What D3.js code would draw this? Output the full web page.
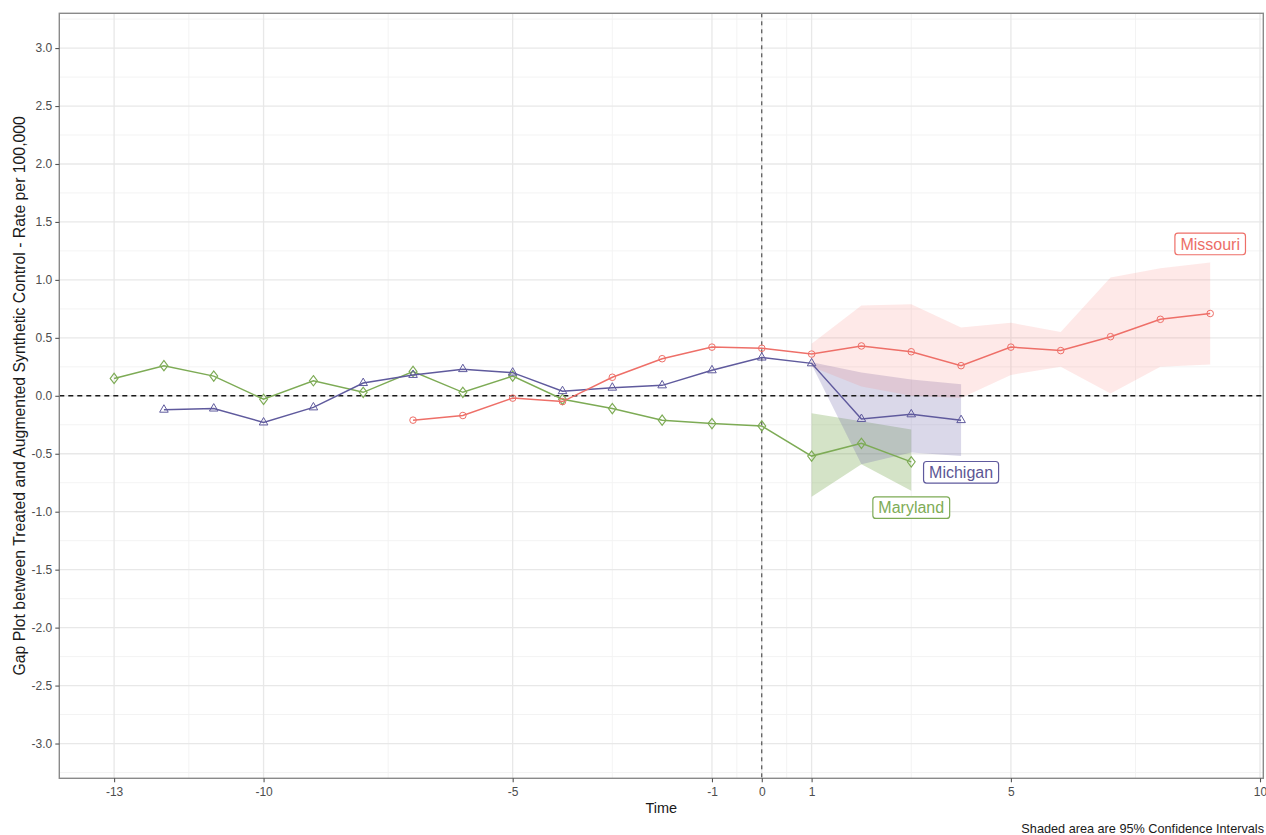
<!DOCTYPE html>
<html>
<head>
<meta charset="utf-8">
<script src="https://cdn.jsdelivr.net/npm/d3@7/dist/d3.min.js"></script>
<style>
  html, body { margin: 0; padding: 0; background: #ffffff; }
  svg { display: block; font-family: "Liberation Sans", Arial, Helvetica, sans-serif; }
</style>
</head>
<body>
<svg id="chart" width="1266" height="835"></svg>
<script>
// ---- data ---------------------------------------------------------------
const xBreaks = [-13, -10, -5, -1, 0, 1, 5, 10];
const yBreaks = [-3.0, -2.5, -2.0, -1.5, -1.0, -0.5, 0.0, 0.5, 1.0, 1.5, 2.0, 2.5, 3.0];

const missouriTime = [-7, -6, -5, -4, -3, -2, -1, 0, 1, 2, 3, 4, 5, 6, 7, 8, 9];
const missouriGap  = [-0.21, -0.17, -0.02, -0.05, 0.16, 0.32, 0.42, 0.41, 0.36, 0.43, 0.38, 0.26, 0.42, 0.39, 0.51, 0.66, 0.71];
const missouriCiTime  = [1, 2, 3, 4, 5, 6, 7, 8, 9];
const missouriCiLower = [0.25, 0.08, 0.00, -0.02, 0.18, 0.25, 0.02, 0.25, 0.27];
const missouriCiUpper = [0.45, 0.78, 0.79, 0.59, 0.63, 0.55, 1.02, 1.10, 1.15];

const michiganTime = [-12, -11, -10, -9, -8, -7, -6, -5, -4, -3, -2, -1, 0, 1, 2, 3, 4];
const michiganGap  = [-0.12, -0.11, -0.23, -0.10, 0.11, 0.18, 0.23, 0.20, 0.04, 0.07, 0.09, 0.22, 0.33, 0.28, -0.20, -0.16, -0.21];
const michiganCiTime  = [1, 2, 3, 4];
const michiganCiLower = [0.27, -0.59, -0.49, -0.52];
const michiganCiUpper = [0.29, 0.20, 0.14, 0.10];

const marylandTime = [-13, -12, -11, -10, -9, -8, -7, -6, -5, -4, -3, -2, -1, 0, 1, 2, 3];
const marylandGap  = [0.15, 0.26, 0.17, -0.03, 0.13, 0.03, 0.21, 0.03, 0.17, -0.03, -0.11, -0.21, -0.24, -0.26, -0.52, -0.41, -0.57];
const marylandCiTime  = [1, 2, 3];
const marylandCiLower = [-0.87, -0.59, -0.82];
const marylandCiUpper = [-0.15, -0.22, -0.29];

const stateNames   = ["Missouri", "Michigan", "Maryland"];
const labelTime    = [9, 4, 3];
const labelGap     = [1.31, -0.66, -0.965];

// ---- layout ---------------------------------------------------------------
const svg = d3.select("#chart");
const panel = { left: 59.3, right: 1263.3, top: 13.3, bottom: 778.3 };

const x = d3.scaleLinear().domain([-14.1, 10.066]).range([panel.left, panel.right]);
const y = d3.scaleLinear().domain([-3.3, 3.3]).range([panel.bottom, panel.top]);

const styles = {
  Missouri: { line: "#ee6f68", band: "#f8766d", bandOpacity: 0.16, text: "#ec6e67", shape: "circle" },
  Michigan: { line: "#5f5a9d", band: "#6a63a8", bandOpacity: 0.25, text: "#5c5694", shape: "triangle" },
  Maryland: { line: "#7dab55", band: "#7dab55", bandOpacity: 0.33, text: "#7eac56", shape: "diamond" }
};

// ---- grid -----------------------------------------------------------------
const xMinor = [];
for (let i = 0; i < xBreaks.length - 1; i++) xMinor.push((xBreaks[i] + xBreaks[i + 1]) / 2);
const yMinor = [];
for (let v = -3.25; v <= 3.26; v += 0.5) yMinor.push(+v.toFixed(2));

const grid = svg.append("g");
grid.selectAll("line.ymin").data(yMinor).join("line")
  .attr("x1", panel.left).attr("x2", panel.right)
  .attr("y1", d => y(d)).attr("y2", d => y(d))
  .attr("stroke", "#f2f2f2").attr("stroke-width", 0.9);
grid.selectAll("line.xmin").data(xMinor).join("line")
  .attr("y1", panel.top).attr("y2", panel.bottom)
  .attr("x1", d => x(d)).attr("x2", d => x(d))
  .attr("stroke", "#f2f2f2").attr("stroke-width", 0.9);
grid.selectAll("line.ymaj").data(yBreaks).join("line")
  .attr("x1", panel.left).attr("x2", panel.right)
  .attr("y1", d => y(d)).attr("y2", d => y(d))
  .attr("stroke", "#e8e8e8").attr("stroke-width", 1.3);
grid.selectAll("line.xmaj").data(xBreaks).join("line")
  .attr("y1", panel.top).attr("y2", panel.bottom)
  .attr("x1", d => x(d)).attr("x2", d => x(d))
  .attr("stroke", "#e8e8e8").attr("stroke-width", 1.3);

// ---- confidence bands -----------------------------------------------------
const area = d3.area().x(d => x(d.t)).y0(d => y(d.lo)).y1(d => y(d.hi));
const bands = [
  ["Maryland", marylandCiTime, marylandCiLower, marylandCiUpper],
  ["Michigan", michiganCiTime, michiganCiLower, michiganCiUpper],
  ["Missouri", missouriCiTime, missouriCiLower, missouriCiUpper]
];
bands.forEach(([name, t, lo, hi]) => {
  const rows = t.map((tt, i) => ({ t: tt, lo: lo[i], hi: hi[i] }));
  svg.append("path").datum(rows).attr("d", area)
    .attr("fill", styles[name].band).attr("fill-opacity", styles[name].bandOpacity);
});

// ---- reference lines ------------------------------------------------------
svg.append("line")
  .attr("x1", panel.left).attr("x2", panel.right)
  .attr("y1", y(0)).attr("y2", y(0))
  .attr("stroke", "#1a1a1a").attr("stroke-width", 1.4).attr("stroke-dasharray", "5,4");
svg.append("line")
  .attr("x1", x(0)).attr("x2", x(0))
  .attr("y1", panel.top).attr("y2", panel.bottom)
  .attr("stroke", "#333333").attr("stroke-width", 1).attr("stroke-dasharray", "4,4");

// ---- series lines and markers --------------------------------------------
const line = d3.line().x(d => x(d.t)).y(d => y(d.v));
const series = [
  ["Maryland", marylandTime, marylandGap],
  ["Michigan", michiganTime, michiganGap],
  ["Missouri", missouriTime, missouriGap]
];
const symbolFor = {
  circle: d3.symbol().type(d3.symbolCircle).size(34),
  triangle: d3.symbol().type(d3.symbolTriangle).size(32),
  diamond: d3.symbol().type(d3.symbolDiamond).size(34)
};
series.forEach(([name, t, v]) => {
  const rows = t.map((tt, i) => ({ t: tt, v: v[i] }));
  const st = styles[name];
  svg.append("path").datum(rows).attr("d", line)
    .attr("fill", "none").attr("stroke", st.line).attr("stroke-width", 1.5);
  svg.append("g").selectAll("path").data(rows).join("path")
    .attr("d", symbolFor[st.shape])
    .attr("transform", d => `translate(${x(d.t)},${y(d.v)})${st.shape === "diamond" ? " scale(1.25,0.95)" : ""}`)
    .attr("fill", "none").attr("stroke", st.line).attr("stroke-width", 1);
});

// ---- state labels ---------------------------------------------------------
stateNames.forEach((name, i) => {
  const st = styles[name];
  const g = svg.append("g").attr("transform", `translate(${x(labelTime[i])},${y(labelGap[i])})`);
  const txt = g.append("text").text(name)
    .attr("text-anchor", "middle").attr("dy", "0.35em")
    .attr("font-size", 16).attr("fill", st.text);
  const w = txt.node().getComputedTextLength();
  g.insert("rect", "text")
    .attr("x", -w / 2 - 5.5).attr("y", -10.8)
    .attr("width", w + 11).attr("height", 21.6)
    .attr("rx", 3).attr("ry", 3)
    .attr("fill", "#ffffff").attr("stroke", st.line).attr("stroke-width", 1.2);
});

// ---- panel border ---------------------------------------------------------
svg.append("rect")
  .attr("x", panel.left).attr("y", panel.top)
  .attr("width", panel.right - panel.left).attr("height", panel.bottom - panel.top)
  .attr("fill", "none").attr("stroke", "#8a8a8a").attr("stroke-width", 1.4);

// ---- axes -----------------------------------------------------------------
const xAxis = svg.append("g").attr("transform", `translate(0,${panel.bottom})`)
  .call(d3.axisBottom(x).tickValues(xBreaks).tickSize(4).tickPadding(5).tickFormat(d3.format("d")));
const yAxis = svg.append("g").attr("transform", `translate(${panel.left},0)`)
  .call(d3.axisLeft(y).tickValues(yBreaks).tickSize(4).tickPadding(3).tickFormat(d3.format(".1f")));
[xAxis, yAxis].forEach(a => {
  a.select(".domain").remove();
  a.selectAll(".tick line").attr("stroke", "#555555").attr("stroke-width", 1.1);
  a.selectAll(".tick text").attr("fill", "#4d4d4d").attr("font-size", 12)
    .attr("font-family", "'Liberation Sans', Arial, Helvetica, sans-serif");
});
xAxis.selectAll(".tick text").text(d => d < 0 ? "-" + Math.abs(d) : d);
yAxis.selectAll(".tick text").text(d => (d < 0 ? "-" : "") + Math.abs(d).toFixed(1));

// ---- titles ---------------------------------------------------------------
svg.append("text")
  .attr("x", (panel.left + panel.right) / 2).attr("y", 813)
  .attr("text-anchor", "middle").attr("font-size", 14.5).attr("fill", "#1a1a1a")
  .text("Time");
svg.append("text")
  .attr("transform", `translate(25,${(panel.top + panel.bottom) / 2}) rotate(-90)`)
  .attr("text-anchor", "middle").attr("font-size", 15.8).attr("fill", "#1a1a1a")
  .text("Gap Plot between Treated and Augmented Synthetic Control - Rate per 100,000");
svg.append("text")
  .attr("x", 1264).attr("y", 833)
  .attr("text-anchor", "end").attr("font-size", 12.7).attr("fill", "#1a1a1a")
  .text("Shaded area are 95% Confidence Intervals");
</script>
</body>
</html>
